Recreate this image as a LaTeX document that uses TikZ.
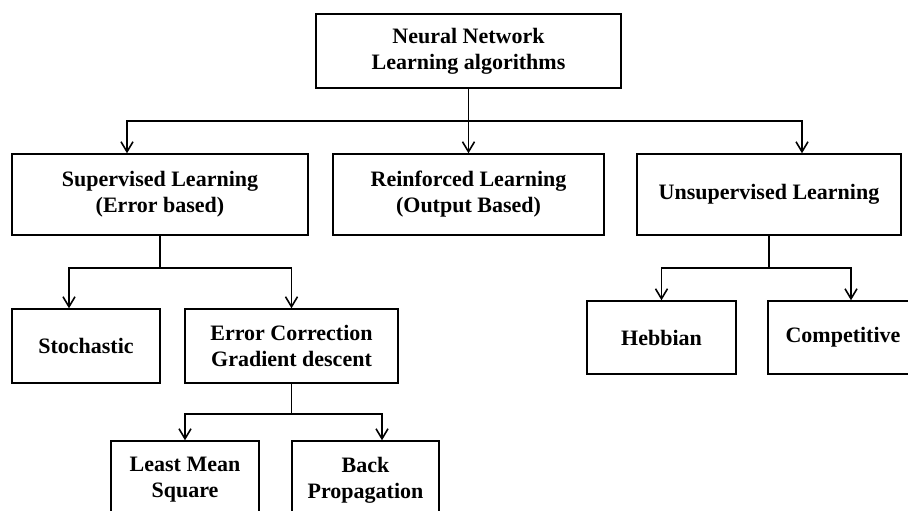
\documentclass[tikz,border=0pt]{standalone}
\usepackage{fontspec}
\setmainfont{Liberation Serif}
\usetikzlibrary{arrows.meta}
\begin{document}
\begin{tikzpicture}[x=1pt,y=-1pt,
  box/.style={draw, line width=1.4pt, align=center, inner sep=0pt,
    font=\fontsize{22}{26}\selectfont\bfseries},
  link/.style={line width=1.6pt},
  arr/.style={link, -{Straight Barb[length=10pt,width=12pt,line width=1.6pt]}}]
\useasboundingbox (0,0) rectangle (908,511);
\node[box, minimum width=305pt, minimum height=74pt] (top) at (468.5,51) {Neural Network\\Learning algorithms};
\node[box, minimum width=296pt, minimum height=81pt] (sup) at (160,194.5) {Supervised Learning\\(Error based)};
\node[box, minimum width=271pt, minimum height=81pt] (rein) at (468.5,194.5) {Reinforced Learning\\(Output Based)};
\node[box, minimum width=264pt, minimum height=81pt] (unsup) at (769,194.5) {Unsupervised Learning};
\node[box, minimum width=148pt, minimum height=74pt] (stoch) at (86,346) {Stochastic};
\node[box, minimum width=213pt, minimum height=74pt] (errc) at (291.5,346) {Error Correction\\Gradient descent};
\node[box, minimum width=149pt, minimum height=73pt] (hebb) at (661.5,337.5) {Hebbian};
\node[box, minimum width=150pt, minimum height=73pt] (comp) at (843,337.5) {Competitive};
\node[box, minimum width=148pt, minimum height=78pt] (lms) at (185,480) {Least Mean\\Square};
\node[box, minimum width=147pt, minimum height=78pt] (bp) at (365.5,480) {Back\\Propagation};
\coordinate (j1) at (468.5,121);
\coordinate (j2) at (160,268);
\coordinate (j3) at (769,268);
\coordinate (j4) at (291.5,414);
\draw[link] (top.south) -- (j1);
\draw[arr] (j1) -| ([xshift=-33pt]sup.north);
\draw[arr] (j1) -- (rein.north);
\draw[arr] (j1) -| ([xshift=33pt]unsup.north);
\draw[link] (sup.south) -- (j2);
\draw[arr] (j2) -| ([xshift=-17pt]stoch.north);
\draw[arr] (j2) -| (errc.north);
\draw[link] (unsup.south) -- (j3);
\draw[arr] (j3) -| (hebb.north);
\draw[arr] (j3) -| ([xshift=8pt]comp.north);
\draw[link] (errc.south) -- (j4);
\draw[arr] (j4) -| (lms.north);
\draw[arr] (j4) -| ([xshift=16.5pt]bp.north);
\end{tikzpicture}
\end{document}
